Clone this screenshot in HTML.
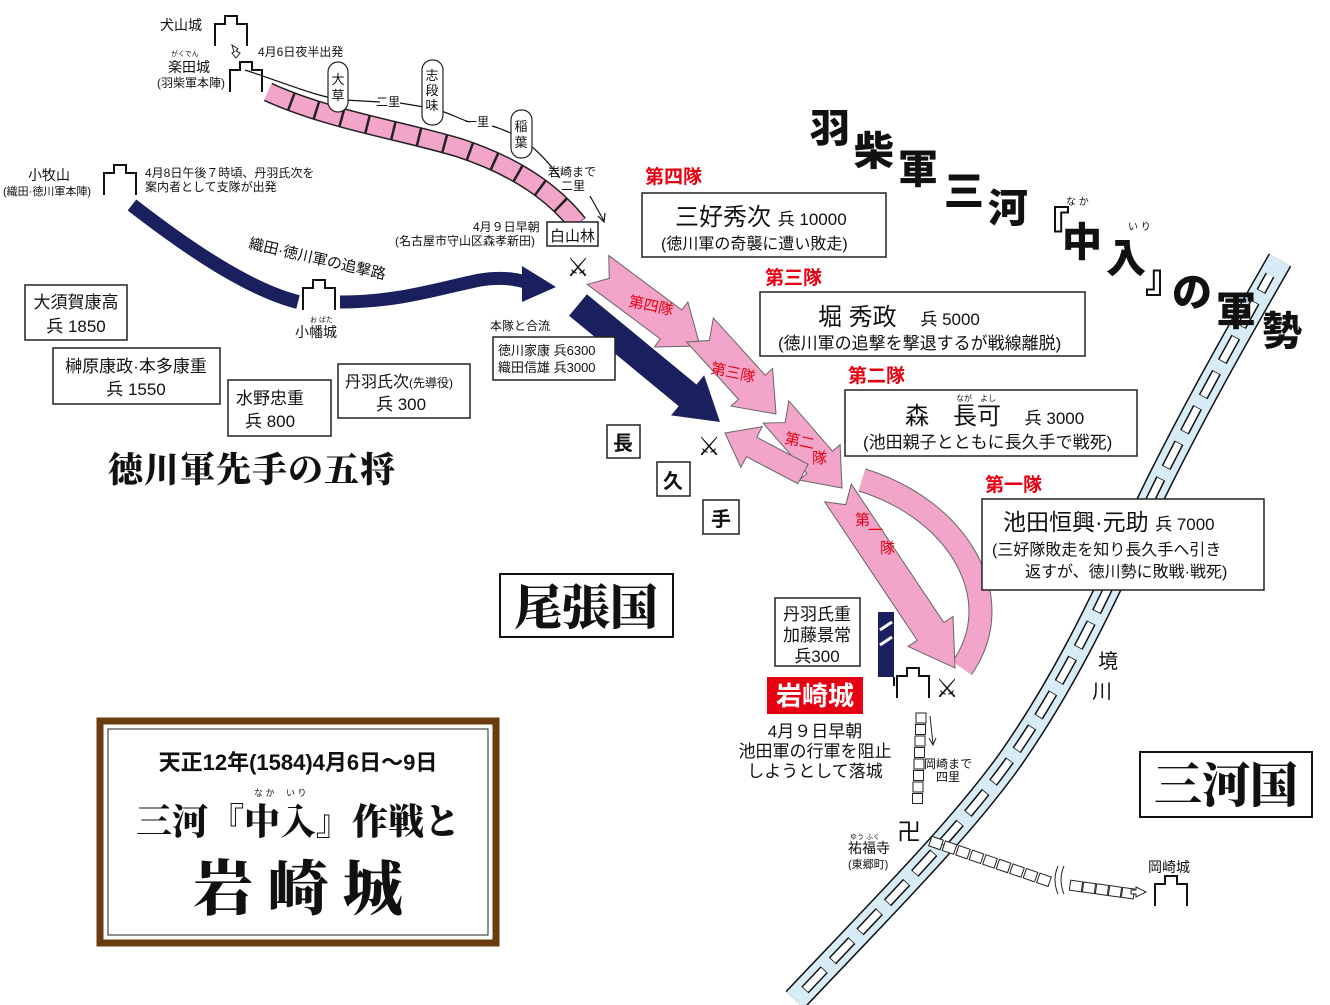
<!DOCTYPE html>
<html><head><meta charset="utf-8"><style>
body{margin:0;background:#fff}
svg{display:block}
text{font-family:"Liberation Sans","Noto Sans CJK JP",sans-serif;fill:#111}
.b{font-family:"Noto Serif CJK JP","Noto Serif CJK SC",serif;font-weight:900}
.r{fill:#e60012;font-weight:bold}
.bx{fill:#fff;stroke:#222;stroke-width:1.5}
</style></head><body>
<svg id="s" width="1330" height="1005" viewBox="0 0 1330 1005" xmlns="http://www.w3.org/2000/svg">
<defs>
<g id="castle"><path d="M0,30 V8 H10 V0 H22 V8 H32 V30" fill="none" stroke="#111" stroke-width="2"/></g>
</defs>
<!-- river -->
<g fill="none">
<path d="M795,1000 C880,910 960,830 1010,760 C1080,660 1120,560 1160,480 C1200,400 1240,330 1280,260" stroke="#111" stroke-width="26"/>
<path d="M795,1000 C880,910 960,830 1010,760 C1080,660 1120,560 1160,480 C1200,400 1240,330 1280,260" stroke="#d8ecf8" stroke-width="23"/>
<path d="M805,990 C880,910 960,830 1010,760 C1080,660 1120,560 1160,480 C1200,400 1240,330 1270,275" stroke="#111" stroke-width="10" stroke-dasharray="28 12"/>
<path d="M805,990 C880,910 960,830 1010,760 C1080,660 1120,560 1160,480 C1200,400 1240,330 1270,275" stroke="#fff" stroke-width="7" stroke-dasharray="26.5 13.5" stroke-dashoffset="-0.75"/>
</g>
<!-- pink road -->
<path d="M268,92 C330,120 400,130 460,148 C520,168 555,195 578,224" fill="none" stroke="#222" stroke-width="20"/>
<path d="M268,92 C330,120 400,130 460,148 C520,168 555,195 578,224" fill="none" stroke="#f2a5c8" stroke-width="17" stroke-dasharray="24 2.5"/>
<!-- thin route line -->
<path d="M245,70 C290,85 320,98 345,100 L380,102 M400,103 L430,108 C450,112 460,120 470,122 M492,126 C520,134 540,150 560,178 M590,196 L604,221" fill="none" stroke="#111" stroke-width="1.2"/>
<path d="M598,216 L604,222 L605,213" fill="none" stroke="#111" stroke-width="1.2"/>
<g fill="#fff" stroke="#222" stroke-width="1.2">
<rect x="328" y="62" width="20" height="50" rx="10"/>
<rect x="422" y="60" width="21" height="65" rx="10"/>
<rect x="511" y="110" width="21" height="48" rx="10"/>
</g>
<g font-size="13" text-anchor="middle">
<text x="338" y="84">大</text><text x="338" y="100">草</text>
<text x="432" y="80">志</text><text x="432" y="95">段</text><text x="432" y="110">味</text>
<text x="521" y="131">稲</text><text x="521" y="147">葉</text>
</g>
<g font-size="12">
<text x="376" y="106">二里</text><text x="465" y="126">一里</text>
<text x="548" y="176">岩崎まで</text><text x="561" y="190">二里</text>
<text x="258" y="56">4月6日夜半出発</text>
<text x="160" y="30" font-size="14">犬山城</text>
<text x="171" y="56" font-size="7">がくでん</text>
<text x="168" y="72" font-size="14">楽田城</text>
<text x="157" y="87">(羽柴軍本陣)</text>
<text x="28" y="180" font-size="14">小牧山</text>
<text x="3" y="195" font-size="11">(織田·徳川軍本陣)</text>
<text x="145" y="177">4月8日午後７時頃、丹羽氏次を</text>
<text x="145" y="191">案内者として支隊が出発</text>
<text x="473" y="231">4月９日早朝</text>
<text x="395" y="245">(名古屋市守山区森孝新田)</text>
<text x="490" y="330">本隊と合流</text>
<text x="310" y="322" font-size="7">お ばた</text>
<text x="295" y="337" font-size="14">小幡城</text>
<text x="924" y="768">岡崎まで</text><text x="936" y="781">四里</text>
<text x="850" y="839" font-size="7">ゆう ふく</text>
<text x="848" y="853" font-size="14">祐福寺</text>
<text x="848" y="868" font-size="11">(東郷町)</text>
<text x="1148" y="872" font-size="14">岡崎城</text>
</g>
<path d="M232,45 l6,4 -2,2 4,2 -4,5 -4,-5 2,-1z" fill="#fff" stroke="#222" stroke-width="1"/>
<use href="#castle" x="215" y="16"/>
<use href="#castle" x="230" y="62"/>
<use href="#castle" x="104" y="165"/>
<use href="#castle" x="303" y="280"/>
<use href="#castle" x="897" y="668"/>
<use href="#castle" x="1155" y="876"/>
<rect x="547" y="222" width="51" height="24" class="bx" stroke-width="1"/>
<text x="550" y="241" font-size="15">白山林</text>
<!-- navy arrows -->
<path d="M132,205 C190,250 250,290 298,302" fill="none" stroke="#1a1f5e" stroke-width="14"/>
<path d="M340,302 C400,302 440,288 480,280 C505,276 520,280 532,284" fill="none" stroke="#1a1f5e" stroke-width="13"/>
<polygon points="522,266 556,287 522,302" fill="#1a1f5e"/>
<text x="0" y="0" font-size="15" transform="translate(248,248) rotate(13)">織田·徳川軍の追撃路</text>
<g id="arrows"></g>
<!-- swords -->
<g font-size="26" text-anchor="middle"><text x="578" y="276">⚔</text><text x="709" y="455">⚔</text><text x="947" y="697">⚔</text></g>
<!-- boxes -->
<text x="645" y="183" font-size="19" class="r">第四隊</text>
<rect x="642" y="193" width="244" height="64" class="bx"/>
<text x="675" y="225" font-size="24">三好秀次 <tspan font-size="17">兵 10000</tspan></text>
<text x="661" y="249" font-size="16">(徳川軍の奇襲に遭い敗走)</text>
<text x="765" y="284" font-size="19" class="r">第三隊</text>
<rect x="760" y="292" width="325" height="64" class="bx"/>
<text x="818" y="325" font-size="24">堀 秀政 <tspan font-size="17">　兵 5000</tspan></text>
<text x="778" y="349" font-size="17">(徳川軍の追撃を撃退するが戦線離脱)</text>
<text x="848" y="382" font-size="19" class="r">第二隊</text>
<rect x="845" y="390" width="292" height="66" class="bx"/>
<text x="956" y="401" font-size="8">なが　よし</text>
<text x="905" y="424" font-size="24">森　長可 <tspan font-size="17">　兵 3000</tspan></text>
<text x="863" y="448" font-size="17">(池田親子とともに長久手で戦死)</text>
<text x="985" y="491" font-size="19" class="r">第一隊</text>
<rect x="982" y="499" width="282" height="91" class="bx"/>
<text x="1003" y="530" font-size="23">池田恒興·元助 <tspan font-size="17">兵 7000</tspan></text>
<text x="992" y="555" font-size="16">(三好隊敗走を知り長久手へ引き</text>
<text x="1025" y="577" font-size="16">返すが、徳川勢に敗戦·戦死)</text>
<rect x="25" y="285" width="102" height="55" class="bx" stroke-width="1"/>
<text x="76" y="308" font-size="17" text-anchor="middle">大須賀康高</text>
<text x="76" y="332" font-size="17" text-anchor="middle">兵 1850</text>
<rect x="53" y="348" width="167" height="56" class="bx" stroke-width="1"/>
<text x="136" y="372" font-size="17" text-anchor="middle">榊原康政·本多康重</text>
<text x="136" y="395" font-size="17" text-anchor="middle">兵 1550</text>
<rect x="228" y="380" width="103" height="56" class="bx" stroke-width="1"/>
<text x="236" y="404" font-size="17">水野忠重</text>
<text x="245" y="427" font-size="17">兵 800</text>
<rect x="338" y="364" width="132" height="54" class="bx" stroke-width="1"/>
<text x="345" y="387" font-size="16">丹羽氏次<tspan font-size="12">(先導役)</tspan></text>
<text x="376" y="410" font-size="17">兵 300</text>
<text x="108" y="482" font-size="35" class="b" letter-spacing="1">徳川軍先手の五将</text>
<rect x="493" y="337" width="122" height="43" class="bx" stroke-width="1"/>
<text x="498" y="355" font-size="13">徳川家康 兵6300</text>
<text x="498" y="372" font-size="13">織田信雄 兵3000</text>
<g font-size="20" font-weight="bold" text-anchor="middle">
<rect x="607" y="425" width="33" height="33" class="bx" stroke-width="1"/><text x="623" y="450">長</text>
<rect x="657" y="462" width="33" height="34" class="bx" stroke-width="1"/><text x="673" y="488">久</text>
<rect x="703" y="500" width="36" height="34" class="bx" stroke-width="1"/><text x="721" y="526">手</text>
</g>
<rect x="500" y="574" width="173" height="63" fill="#fff" stroke="#111" stroke-width="2"/>
<text x="586" y="624" font-size="48" class="b" text-anchor="middle">尾張国</text>
<rect x="1140" y="752" width="172" height="65" fill="#fff" stroke="#111" stroke-width="2"/>
<text x="1226" y="802" font-size="48" class="b" text-anchor="middle">三河国</text>
<rect x="775" y="598" width="85" height="68" class="bx" stroke-width="1"/>
<g font-size="17" text-anchor="middle"><text x="817" y="620">丹羽氏重</text><text x="817" y="641">加藤景常</text><text x="817" y="662">兵300</text></g>
<rect x="878" y="612" width="16" height="65" fill="#1a1f5e"/>
<path d="M880,630 L892,622 M880,645 L892,637" stroke="#fff" stroke-width="3"/>
<path d="M894,677 V686" stroke="#111" stroke-width="2"/>
<rect x="767" y="677" width="96" height="37" fill="#e60012"/>
<text x="815" y="705" font-size="26" font-weight="bold" text-anchor="middle" style="fill:#fff">岩崎城</text>
<g font-size="17" text-anchor="middle"><text x="815" y="737">4月９日早朝</text><text x="815" y="757">池田軍の行軍を阻止</text><text x="815" y="777">しようとして落城</text></g>
<!-- square roads -->
<g id="sq" fill="#fff" stroke="#222" stroke-width="1"></g>
<path d="M930,716 L933,744 M929,738 l4,7 3,-7" fill="none" stroke="#222" stroke-width="1"/>
<text x="897" y="840" font-size="24">卍</text>
<path d="M1058,866 q-6,14 0,28 M1064,866 q-6,14 0,28" fill="none" stroke="#222"/>
<path d="M1136,887 l10,5 -10,5 v-3 h-5 v-4 h5z" fill="#fff" stroke="#222"/>
<text x="1098" y="668" font-size="20">境</text><text x="1092" y="698" font-size="20">川</text>
<!-- big title -->
<g class="b" font-size="40">
<text x="810" y="142">羽</text><text x="854" y="165">柴</text><text x="898" y="183">軍</text>
<text x="944" y="205">三</text><text x="988" y="222">河</text><text x="1030" y="240">『</text>
<text x="1062" y="256">中</text><text x="1106" y="272">入</text><text x="1145" y="292">』</text>
<text x="1172" y="306">の</text><text x="1216" y="325">軍</text><text x="1262" y="345">勢</text>
</g>
<text x="1066" y="205" font-size="10">な か</text><text x="1128" y="230" font-size="10">い り</text>
<!-- title frame -->
<rect x="100" y="721" width="396" height="222" fill="#fff" stroke="#6b3c12" stroke-width="7"/>
<rect x="108" y="729" width="380" height="206" fill="none" stroke="#222" stroke-width="1"/>
<text x="298" y="770" font-size="22" font-weight="bold" text-anchor="middle">天正12年(1584)4月6日〜9日</text>
<text x="254" y="796" font-size="9">な か　 い り</text>
<text x="298" y="834" font-size="36" class="b" text-anchor="middle">三河『中入』作戦と</text>
<text x="298" y="910" font-size="60" class="b" text-anchor="middle">岩 崎 城</text>
</svg>
<script>
var NS="http://www.w3.org/2000/svg",g=document.getElementById('arrows');
function arr(x1,y1,x2,y2,w,hw,hl,notch,fill){var dx=x2-x1,dy=y2-y1,L=Math.hypot(dx,dy),ux=dx/L,uy=dy/L,nx=-uy,ny=ux;
var bx=x2-ux*hl,by=y2-uy*hl;var p=[[x1+nx*w/2,y1+ny*w/2],[bx+nx*w/2,by+ny*w/2],[bx+nx*hw/2,by+ny*hw/2],[x2,y2],[bx-nx*hw/2,by-ny*hw/2],[bx-nx*w/2,by-ny*w/2],[x1-nx*w/2,y1-ny*w/2],[x1+ux*notch,y1+uy*notch]];
var e=document.createElementNS(NS,'polygon');e.setAttribute('points',p.map(function(a){return a.join(',')}).join(' '));e.setAttribute('fill',fill);e.setAttribute('stroke',fill=='#1a1f5e'?'none':'#666');e.setAttribute('stroke-width','1');g.appendChild(e);}
var pk='#f2a5c8';
var c=document.createElementNS(NS,'path');c.setAttribute('d','M862,480 C960,510 1010,600 962,668');c.setAttribute('fill','none');c.setAttribute('stroke','#666');c.setAttribute('stroke-width','24');g.appendChild(c);
c=c.cloneNode();c.setAttribute('stroke',pk);c.setAttribute('stroke-width','22');g.appendChild(c);
arr(578,305,720,422,28,52,42,0,'#1a1f5e');
arr(598,270,700,346,36,56,36,14,pk);
arr(700,330,776,414,36,56,36,14,pk);
arr(776,412,842,488,34,54,34,14,pk);
arr(838,493,955,668,32,54,44,14,pk);
arr(803,474,725,433,22,46,30,0,pk);
function tx(s,x,y,rot){var e=document.createElementNS(NS,'text');e.textContent=s;e.setAttribute('font-size','15');e.setAttribute('fill','#e60012');e.style.fill='#e60012';e.setAttribute('transform','translate('+x+','+y+') rotate('+rot+')');g.appendChild(e);}
tx('第四隊',628,306,12);tx('第三隊',710,373,12);tx('第二',784,443,12);tx('隊',812,463,0);tx('第',855,525,0);tx('一',868,535,0);tx('隊',880,553,0);
var s=document.getElementById('sq');
function sq(x,y,w,h,rot){var r=document.createElementNS(NS,'rect');r.setAttribute('x',x);r.setAttribute('y',y);r.setAttribute('width',w);r.setAttribute('height',h);if(rot)r.setAttribute('transform','rotate('+rot+' '+(x+w/2)+' '+(y+h/2)+')');s.appendChild(r);}
for(var i=0;i<8;i++)sq(916-i*0.5,713+i*11.5,10,10,0);
for(var i=0;i<9;i++)sq(930+i*13.5,838+i*4.6,12,10,19);
for(var i=0;i<5;i++)sq(1070+i*13,881+i*1.8,12,10,8);
</script>
</body></html>
